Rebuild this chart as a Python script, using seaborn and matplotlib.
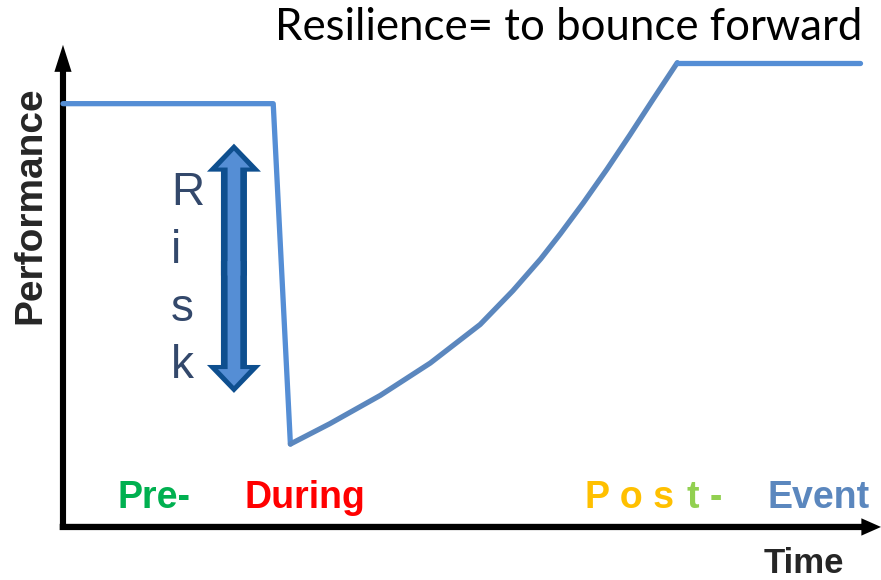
import matplotlib
matplotlib.use('Agg')
import pandas as pd
import matplotlib.pyplot as plt
import seaborn as sns

# performance curve (time 0-100, performance 0-100)
time = [0, 25.7, 27.8,
        27.8, 32.6, 38.8, 44.9, 51.0, 55.0, 58.4, 60.8, 63.6, 66.5, 69.3, 72.1, 75.1,
        75.1, 97.4]
performance = [87.8, 87.8, 17.2,
               17.2, 21.4, 27.3, 34.0, 42.0, 49.0, 55.6, 60.8, 67.2, 74.2, 81.3, 88.6, 96.3,
               96.3, 96.3]
segment = ['shock'] * 3 + ['recovery'] * 13 + ['new normal'] * 2

phase_labels = ['Pre-', 'During', 'P o s', 't -', 'Event']
phase_colors = ['#00B050', '#FF0000', '#FFC000', '#92D050', '#5B87BE']
phase_x = [6.7, 22.2, 63.8, 80.6, 86.1]
phase_ha = ['left', 'left', 'left', 'right', 'left']

risk_top, risk_bottom = 79.5, 27.8

df = pd.DataFrame({'time': time, 'performance': performance, 'segment': segment})

sns.set_style('white')
fig = plt.figure(figsize=(8.81, 5.8), dpi=100)
ax = fig.add_axes([0, 0, 1, 1])
ax.set_xlim(-7.70, 100)
ax.set_ylim(-11.0, 109.3)
ax.axis('off')

palette = {'shock': '#558ED5', 'recovery': '#5B87BE', 'new normal': '#558ED5'}
sns.lineplot(data=df, x='time', y='performance', hue='segment', palette=palette,
             sort=False, estimator=None, legend=False, linewidth=3.8, ax=ax)

# axes with arrow heads
ax.arrow(0, -0.6, 0, 100.6, width=0.75, head_width=2.1, head_length=5.6,
         length_includes_head=True, fc='black', ec='none')
ax.arrow(-0.4, 0, 100.4, 0, width=1.3, head_width=3.6, head_length=2.4,
         length_includes_head=True, fc='black', ec='none')

# double headed risk arrow, drawn as two halves that overlap in the middle
mid = (risk_top + risk_bottom) / 2
half = risk_top - mid
for d in (1, -1):
    ax.arrow(20.9, mid - d * 1.5, 0, d * (half + 1.5), width=3.18, head_width=6.6, head_length=5.8,
             length_includes_head=True, fc='#0E4F8F', ec='none')
for d in (1, -1):
    ax.arrow(20.9, mid - d * 1.5, 0, d * (half + 0.05), width=1.55, head_width=3.9, head_length=3.5,
             length_includes_head=True, fc='#558ED5', ec='none')

for i, ch in enumerate('Risk'):
    ax.text(13.2, 66.8 - i * 12.0, ch, fontsize=33, color='#33486B',
            family='Liberation Sans', ha='left', va='baseline')

ax.text(97.7, 101, 'Resilience= to bounce forward', fontsize=31.5, family='Lato',
        ha='right', va='baseline', color='black')

ax.text(-4.0, 66.8, 'Performance', fontsize=28, fontweight='bold', family='Liberation Sans',
        rotation=90, ha='center', va='center')
ax.text(85.6, -9.5, 'Time', fontsize=25, fontweight='bold', family='Liberation Sans',
        ha='left', va='baseline')

for lab, col, x, ha in zip(phase_labels, phase_colors, phase_x, phase_ha):
    ax.text(x, 3.9, lab, fontsize=27, fontweight='bold', color=col,
            family='Liberation Sans', ha=ha, va='baseline')

fig.savefig('out.png', dpi=100)
